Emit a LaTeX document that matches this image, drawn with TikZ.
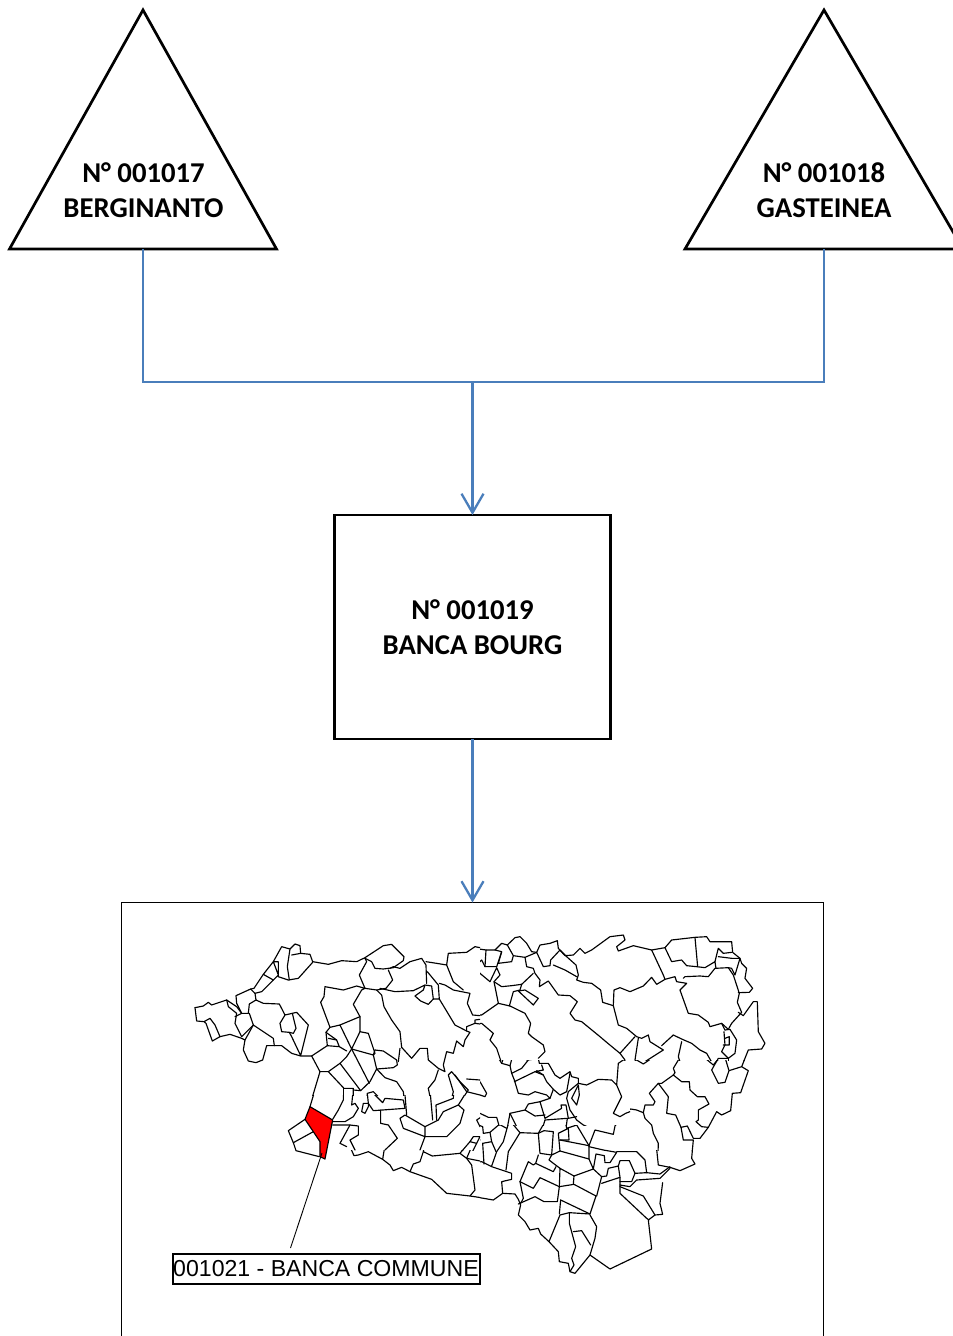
\documentclass[tikz,border=0pt]{standalone}
\usepackage{fontspec}
\setmainfont{Carlito}
\newfontfamily\arialf{Liberation Sans}
\usetikzlibrary{arrows.meta,shapes.geometric}
\definecolor{conn}{HTML}{4A7EBB}
\tikzset{
 tri/.style={draw=black,line width=2.7pt,shape=isosceles triangle,shape border rotate=90,isosceles triangle stretches,minimum height=239pt,minimum width=267pt,inner sep=0pt,outer sep=0pt,anchor=apex,line join=miter},
 cbox/.style={draw=black,line width=2.7pt,minimum width=276.5pt,minimum height=224pt,inner sep=0pt,outer sep=0pt},
 ttl/.style={font=\fontsize{28.7}{35}\selectfont\bfseries,align=center,inner sep=0pt},
 link/.style={draw=conn,line width=2.3pt},
 linkarrow/.style={link,-{Straight Barb[length=19pt,width=22pt,line width=2.3pt]}},
 mapl/.style={draw=black,line width=1.15pt,line join=round,line cap=round},
 z1/.style={shift={(180,925)},x=0.3333pt,y=-0.3333pt},
 z2/.style={shift={(470,925)},x=0.3333pt,y=-0.3333pt},
 z3/.style={shift={(270,1090)},x=0.3333pt,y=-0.3333pt},
 z4/.style={shift={(470,1090)},x=0.3333pt,y=-0.3333pt},
 z7/.style={shift={(610,1050)},x=0.3333pt,y=-0.3333pt},
 z8/.style={shift={(310,1040)},x=0.3333pt,y=-0.3333pt},
 z9/.style={shift={(480,1030)},x=0.3333pt,y=-0.3333pt},
}
\newcommand{\ml}[1]{\draw[mapl] plot coordinates {#1};}
\begin{document}
\begin{tikzpicture}[x=1pt,y=-1pt]
\useasboundingbox (0,0) rectangle (953,1336);
\fill[white] (0,0) rectangle (953,1336);
% frame
\node[draw=black,line width=1pt,minimum width=702pt,minimum height=440pt,inner sep=0pt,outer sep=0pt,anchor=north west] (frame) at (121.5,902.5) {};
% triangles
\node[tri] (t1) at (143,10) {};
\node[tri,minimum width=278pt] (t2) at (824,10) {};
\node[ttl] (t1txt) at (143.5,190.5) {N° 001017\\BERGINANTO};
\node[ttl] (t2txt) at (824,190.5) {N° 001018\\GASTEINEA};
% box
\node[cbox] (box) at (472.5,627) {};
\node[ttl] (boxtxt) at (472.5,627.5) {N° 001019\\BANCA BOURG};
% connectors
\coordinate (j) at (472.5,382);
\draw[link] (t1.lower side) |- (j);
\draw[link] (t2.lower side) |- (j);
\draw[linkarrow] (j) -- (box.north);
\draw[linkarrow] (box.south) -- (frame.north -| box.south);
% map
\begin{scope}
\clip (180,925) rectangle (480,1095);
\begin{scope}[z1]
\ml{(45,248)(70,243)(85,232)(95,240)(140,225)(170,245)(185,265)(205,265)(208,237)(228,225)(250,235)(298,237)(315,270)(300,295)(305,320)(328,322)(335,335)(362,392)(385,300)(350,262)(315,270)}
\ml{(45,248)(50,288)(72,290)(78,295)(97,348)(120,335)(105,300)(90,280)(72,290)}
\ml{(120,335)(150,328)(185,340)(195,345)}
\ml{(140,225)(145,245)(170,265)(165,295)(185,335)(220,300)(208,265)}
\ml{(165,275)(185,265)}
\ml{(337,265)(348,310)(340,325)(328,322)}
\ml{(220,300)(280,340)(283,362)(260,362)(248,405)(228,413)(205,408)(190,375)(195,345)(220,300)}
\ml{(283,362)(305,362)(335,385)(362,393)(395,393)}
\ml{(228,225)(225,205)(212,192)(168,212)(170,235)(185,265)}
\ml{(212,192)(222,190)(250,148)(280,110)(305,65)(330,72)(345,57)(360,62)(362,85)(390,88)(398,110)(445,118)(485,107)(530,110)(555,98)(610,62)(635,58)(672,95)(670,107)(640,128)(610,132)(585,130)(575,110)(555,100)}
\ml{(225,205)(245,200)(280,165)(250,148)}
\ml{(280,165)(295,150)(280,110)(295,110)(295,155)(325,165)(355,160)(398,112)}
\ml{(330,72)(322,125)(328,165)}
\ml{(335,90)(362,85)}
\ml{(555,100)(560,110)(538,150)(555,190)(590,195)(618,190)(638,165)(625,135)}
\ml{(600,190)(645,200)(700,197)(735,180)(755,183)(760,222)(745,238)(722,228)(705,213)(730,195)(735,180)}
\ml{(630,130)(640,125)(660,130)(690,110)(725,100)(738,120)(740,175)}
\ml{(738,110)(770,115)(800,120)(805,85)(860,82)(885,65)(900,68)}
\ml{(800,120)(820,170)(850,195)}
\ml{(742,140)(775,180)(778,222)(760,222)}
\ml{(778,175)(795,180)(820,195)(870,205)(862,235)(878,270)(900,272)}
\ml{(778,222)(825,300)(860,318)(870,322)(855,345)(850,365)(830,348)(820,385)(800,380)(790,420)(795,440)(775,430)(745,405)(742,370)(720,370)(695,400)(665,367)(660,320)(635,285)(612,245)(605,210)(590,195)}
\ml{(900,283)(885,285)(885,295)(860,305)(860,318)}
\ml{(885,295)(900,297)}
\ml{(555,190)(545,195)(520,238)(540,275)(540,320)(515,372)(480,300)(450,307)(422,232)(432,215)(435,185)(490,195)(530,183)(555,190)}
\ml{(540,275)(480,300)}
\ml{(450,307)(438,322)(442,362)(395,393)(420,440)(445,440)(480,415)(500,395)(515,372)(580,390)(585,375)}
\ml{(442,362)(478,365)(500,378)}
\ml{(438,322)(470,345)(478,365)}
\ml{(445,340)(470,345)}
\ml{(540,320)(565,325)(585,385)(580,390)(590,432)(570,470)(542,497)(480,415)}
\ml{(515,372)(550,440)(568,475)}
\ml{(585,375)(610,378)(650,405)(652,420)(640,428)(590,432)(615,458)(650,470)(670,500)(675,540)}
\ml{(660,370)(655,410)}
\ml{(420,440)(390,540)}
\ml{(445,440)(492,490)(520,490)(520,540)}
\ml{(490,490)(490,540)}
\ml{(520,495)(542,497)}
\ml{(562,540)(562,505)(580,500)(605,525)(650,520)(672,525)}
\ml{(745,490)(765,465)(775,435)}
\ml{(745,490)(755,540)}
\ml{(775,535)(815,520)(820,500)(805,450)(815,440)(840,470)(865,495)(835,540)}
\ml{(825,450)(860,500)}
\ml{(860,462)(900,465)}
\ml{(860,500)(900,510)}
\end{scope}
\end{scope}
\begin{scope}
\clip (480,925) rectangle (775,1060);
\begin{scope}[z2]
\ml{(0,68)(48,75)(75,75)(95,55)(112,60)(135,38)(150,35)(170,55)(185,80)(200,82)(210,60)(240,55)(262,47)(265,70)(285,92)(310,90)(330,70)(345,85)(365,75)(420,35)(460,30)(465,45)(440,65)(445,78)(490,62)(545,75)(585,68)(605,45)(675,37)(710,35)(720,50)(785,50)(788,82)(810,100)(815,115)(830,130)(825,160)(848,190)(838,202)(805,203)}
\ml{(48,75)(45,125)(80,125)(95,80)(75,75)}
\ml{(95,80)(85,115)(125,110)(130,92)(112,60)}
\ml{(130,92)(165,97)(170,125)(190,130)(195,145)(210,165)(208,185)(235,168)(265,210)(300,212)(322,230)(300,265)(315,285)(335,290)(390,335)(410,352)(450,385)(495,335)}
\ml{(165,97)(200,82)(220,125)(240,122)(242,105)(270,75)(290,95)(318,120)(325,150)(320,165)(340,172)(365,175)(392,195)(398,232)(430,242)(445,300)(470,310)(500,335)(515,340)(535,330)(540,350)(580,375)(525,410)(510,418)(495,405)(505,340)}
\ml{(250,120)(285,135)(320,155)}
\ml{(430,240)(432,195)(450,188)(480,200)(520,183)(545,157)(560,178)(585,163)(615,155)(620,170)(650,175)(630,195)(655,265)(685,270)(715,292)(720,305)(755,295)(765,315)}
\ml{(545,75)(580,150)(585,163)}
\ml{(640,160)(645,155)(690,153)(715,155)(735,130)(775,128)(790,150)(808,205)(802,232)(815,262)(785,295)(775,313)(755,295)}
\ml{(585,68)(605,110)(635,105)(650,122)(680,125)(705,128)(735,110)(738,130)}
\ml{(675,37)(683,125)}
\ml{(735,110)(745,70)(760,85)(785,82)}
\ml{(745,95)(785,100)(810,100)(795,150)(785,130)(775,128)}
\ml{(805,262)(820,272)(850,230)(862,230)(865,320)(885,355)(875,372)(835,375)(815,425)}
\ml{(765,315)(780,313)(800,345)(795,385)(775,400)(755,380)(765,360)(762,320)}
\ml{(765,340)(778,335)(778,360)(760,360)}
\ml{(775,400)(745,400)(725,440)}
\ml{(775,400)(775,435)}
\ml{(450,385)(465,405)(445,450)}
\ml{(610,330)(635,342)(665,355)(690,375)(710,385)(730,420)}
\ml{(575,362)(610,330)}
\ml{(635,350)(625,395)(630,410)(610,430)}
\ml{(85,235)(120,243)(165,265)(182,295)(175,325)(185,335)(220,360)(225,380)(205,400)}
\ml{(0,270)(35,270)(85,235)(80,210)(72,170)(90,150)(80,128)(60,170)}
\ml{(72,170)(95,185)(125,182)(155,178)(190,145)}
\ml{(18,120)(35,105)(45,125)}
\ml{(18,120)(30,145)(60,170)}
\ml{(155,178)(150,195)(130,200)(118,243)}
\ml{(145,198)(165,195)(205,220)(190,240)(145,198)}
\ml{(0,298)(35,295)(70,325)(60,345)(80,370)(95,415)}
\end{scope}
\end{scope}
\begin{scope}
\clip (480,1060) rectangle (630,1125);
\begin{scope}[z9]
\ml{(30,0)(45,20)(30,30)(50,55)(50,75)(65,100)(90,107)(95,130)(103,150)(115,190)(145,195)(165,185)(200,195)(210,205)(220,178)(200,155)(190,135)(170,122)}
\ml{(65,100)(75,70)(105,55)(110,35)(145,30)(150,15)(165,22)(185,40)(190,65)(165,80)(140,90)}
\ml{(90,107)(100,70)(135,62)(145,40)(165,22)}
\ml{(95,130)(125,115)(145,90)(175,85)(178,100)(205,100)(225,135)(240,145)(270,125)(275,140)(295,145)(295,160)(265,185)(260,205)(270,240)(290,270)(310,285)(345,300)(400,310)(410,320)}
\ml{(103,155)(165,125)(190,135)}
\ml{(165,125)(190,120)(185,105)}
\ml{(220,178)(240,195)(260,185)(270,130)}
\ml{(295,165)(275,205)(290,225)(298,195)(295,165)}
\ml{(295,160)(320,165)(355,148)(395,150)(410,165)(425,200)(400,250)(420,260)(437,250)(450,245)}
\ml{(410,165)(415,100)(437,85)(420,65)(375,40)(360,25)(335,0)}
\ml{(420,65)(450,45)}
\ml{(90,250)(135,240)(145,222)(180,215)(195,265)(245,235)(243,225)(258,225)(265,265)(290,260)}
\ml{(135,240)(165,258)(195,255)}
\ml{(195,270)(262,265)}
\ml{(90,250)(75,330)}
\ml{(90,250)(120,310)(188,293)(195,270)}
\ml{(188,293)(240,310)(258,295)(262,265)}
\ml{(258,295)(290,295)}
\ml{(180,215)(210,205)}
\ml{(0,250)(25,262)(50,262)(58,290)(30,305)(0,320)}
\ml{(58,290)(80,297)(75,330)}
\ml{(0,155)(20,190)(15,200)(0,195)}
\end{scope}
\end{scope}
\begin{scope}
\clip (480,1125) rectangle (630,1290) (630,1150) rectangle (700,1290);
\begin{scope}[z4]
\ml{(125,70)(165,68)(175,40)(205,35)(225,72)(222,95)(270,60)(285,55)(300,65)(320,105)(357,167)}
\ml{(165,68)(190,80)(222,75)}
\ml{(125,70)(118,90)(150,128)(205,130)(222,100)(225,95)(285,90)(290,115)(320,105)}
\ml{(205,130)(210,190)(245,195)(250,125)(222,122)(205,130)}
\ml{(118,90)(100,155)(80,185)(65,228)}
\ml{(150,128)(115,185)(108,240)}
\ml{(20,85)(50,68)(55,78)(85,85)(88,103)(110,115)}
\ml{(20,85)(25,105)(38,110)(40,130)(60,127)(88,103)}
\ml{(60,127)(65,155)(78,185)}
\ml{(38,160)(65,155)}
\ml{(38,160)(42,222)}
\ml{(0,170)(5,145)(22,137)(30,150)(20,158)(5,155)(0,170)}
\ml{(0,220)(35,215)(65,230)(125,250)(125,268)(95,275)(98,310)(135,312)(145,328)(152,345)(145,375)(165,395)(180,420)(205,415)(212,432)(237,455)(265,485)(268,515)(295,520)(300,545)(315,550)(360,495)(420,537)(545,477)(535,390)(555,375)(578,373)(570,340)(578,278)}
\ml{(0,260)(10,305)(0,318)(70,330)(98,310)}
\ml{(145,342)(195,320)(222,335)(262,335)(268,290)(312,283)(378,318)(360,372)(298,368)(270,375)(237,455)}
\ml{(268,290)(270,235)(312,258)(310,283)}
\ml{(270,235)(237,210)(245,195)(270,183)(357,207)(370,237)(312,258)}
\ml{(370,237)(395,260)(380,318)}
\ml{(395,280)(450,262)}
\ml{(395,260)(410,258)(415,235)(445,228)(450,262)(450,310)(530,385)(537,390)}
\ml{(450,290)(520,318)(555,375)}
\ml{(450,285)(480,290)(500,270)(570,265)(600,235)}
\ml{(450,275)(485,275)(495,250)(530,248)(570,252)(600,230)}
\ml{(495,250)(478,212)(450,212)(445,228)}
\ml{(530,248)(525,210)(500,185)(440,185)}
\ml{(270,183)(265,130)(295,115)(297,150)(270,150)}
\ml{(270,150)(357,167)(357,207)}
\ml{(357,167)(375,120)(430,133)(435,108)(465,70)(520,68)(545,95)(555,130)(565,225)(600,232)(630,242)(675,222)(665,205)(670,150)(640,152)(635,110)(660,108)(670,150)}
\ml{(357,170)(400,180)(440,187)(420,218)(405,218)(403,197)(378,192)(370,237)}
\ml{(205,195)(197,220)(250,245)(258,230)}
\ml{(150,275)(175,215)(190,225)(197,220)}
\ml{(150,275)(190,295)(210,263)(268,290)}
\ml{(150,275)(160,325)(152,340)}
\ml{(272,330)(268,372)}
\ml{(272,330)(360,372)}
\ml{(298,368)(298,400)(317,470)(305,505)(312,525)(300,545)}
\ml{(360,375)(380,410)(375,445)(360,495)}
\ml{(310,425)(335,422)(362,465)}
\ml{(270,50)(285,45)(285,60)(270,60)(270,50)}
\end{scope}
\end{scope}
\begin{scope}
\clip (630,1060) rectangle (775,1150);
\begin{scope}[z7]
\ml{(0,88)(20,105)(33,140)(15,180)(20,195)(40,192)(62,177)(80,180)(100,188)(105,165)(130,165)(135,155)(118,130)(145,100)(155,100)(190,75)(195,68)(190,55)(205,30)(212,0)}
\ml{(100,188)(105,205)(125,225)(130,250)(145,280)(143,340)(155,350)(178,350)(200,350)(220,362)(255,342)(245,322)(250,270)(220,270)(213,232)(232,228)(250,265)(270,265)(295,232)(320,185)(335,195)(362,182)(367,130)(392,128)(415,62)(395,50)(357,62)(345,97)(325,100)(305,60)(322,30)(345,22)(357,62)}
\ml{(145,100)(175,140)(170,190)(197,195)(213,232)}
\ml{(190,75)(215,95)(238,95)(240,120)(262,140)(285,140)(297,162)(265,180)(265,210)(258,215)(275,230)(295,232)}
\ml{(40,192)(25,215)(10,235)(5,250)(0,250)}
\ml{(20,0)(45,30)(25,80)(20,105)}
\ml{(75,0)(80,30)(100,42)(135,18)(160,0)}
\ml{(280,20)(310,45)(322,30)}
\ml{(395,50)(415,0)}
\end{scope}
\end{scope}
\begin{scope}
\clip (325,1095) rectangle (480,1150);
\begin{scope}[z8]
\ml{(0,48)(50,15)(85,18)(118,28)(190,45)(228,35)(265,65)(260,80)(205,85)(190,45)}
\ml{(118,28)(178,125)(150,150)(130,145)(100,145)(60,95)(75,70)(90,70)(120,30)}
\ml{(90,70)(130,145)(125,195)(135,190)(145,205)(130,230)(105,245)(70,245)}
\ml{(178,125)(205,85)}
\ml{(205,85)(225,90)(235,112)(270,125)(285,165)(290,225)}
\ml{(100,145)(100,180)(85,210)(68,238)}
\ml{(60,95)(30,97)(0,190)}
\ml{(30,97)(10,55)(0,48)}
\ml{(270,25)(290,25)(315,55)(335,25)(385,87)(405,95)(410,45)(440,30)(445,0)}
\ml{(385,87)(375,110)(360,150)(368,240)}
\ml{(380,240)(378,195)(430,175)(432,135)(418,105)(430,97)(470,155)(490,145)(530,170)(515,125)(470,120)(490,145)}
\ml{(470,155)(445,195)(400,215)(385,240)}
\ml{(445,195)(462,210)(450,250)(410,290)(345,290)(345,260)(285,225)(270,235)(280,265)(345,290)(330,330)}
\ml{(345,260)(385,240)}
\ml{(172,160)(185,155)(218,188)(225,175)(280,180)(285,205)}
\ml{(172,160)(175,190)(190,212)(285,205)}
\ml{(160,190)(175,190)(175,200)(165,220)(155,215)(160,190)}
\ml{(212,210)(212,250)(235,255)(262,295)(225,330)}
\ml{(68,255)(120,255)(145,258)(145,285)(120,300)(135,330)}
\ml{(120,255)(90,310)(110,320)}
\ml{(500,240)(530,220)(540,250)(525,262)(510,260)(500,240)}
\ml{(490,290)(510,290)(500,310)(480,305)(490,290)}
\ml{(480,305)(450,340)}
\ml{(500,310)(485,340)}
\end{scope}
\end{scope}
\begin{scope}
\clip (270,1095) rectangle (325,1290) (325,1150) rectangle (480,1290);
\begin{scope}[z3]
\ml{(105,88)(55,122)(70,158)(78,182)(148,200)}
\ml{(70,158)(130,125)}
\ml{(120,50)(135,0)}
\ml{(210,155)(240,105)}
\ml{(210,155)(240,170)(252,197)(265,195)(295,185)(338,208)(345,165)(380,152)(360,125)(332,100)(333,55)}
\ml{(338,208)(360,225)(370,242)(395,232)(420,245)(485,268)(530,310)(600,318)(660,327)}
\ml{(465,140)(460,185)(450,215)(430,222)(420,245)}
\ml{(460,185)(487,198)(570,190)}
\ml{(600,318)(615,300)(605,225)(590,205)(570,190)(595,160)}
\ml{(590,205)(610,158)}
\ml{(590,205)(640,215)}
\end{scope}
\end{scope}
\begin{scope}[z3]
\draw[mapl,fill=red] (120,50) -- (188,90) -- (165,207) -- (150,200) -- (150,155) -- (130,125) -- (105,88) -- cycle;
\end{scope}
% label
\node[draw=black,line width=2pt,minimum width=307pt,minimum height=30pt,inner sep=0pt,outer sep=0pt,font=\arialf\fontsize{23.1}{24}\selectfont] (lab) at (326,1268.5) {001021 - BANCA COMMUNE};
\coordinate (ltop) at (322,1153);
\coordinate (lbot) at (290.5,1248);
\draw[black,line width=0.9pt] (ltop) -- (lbot);
\end{tikzpicture}
\end{document}
